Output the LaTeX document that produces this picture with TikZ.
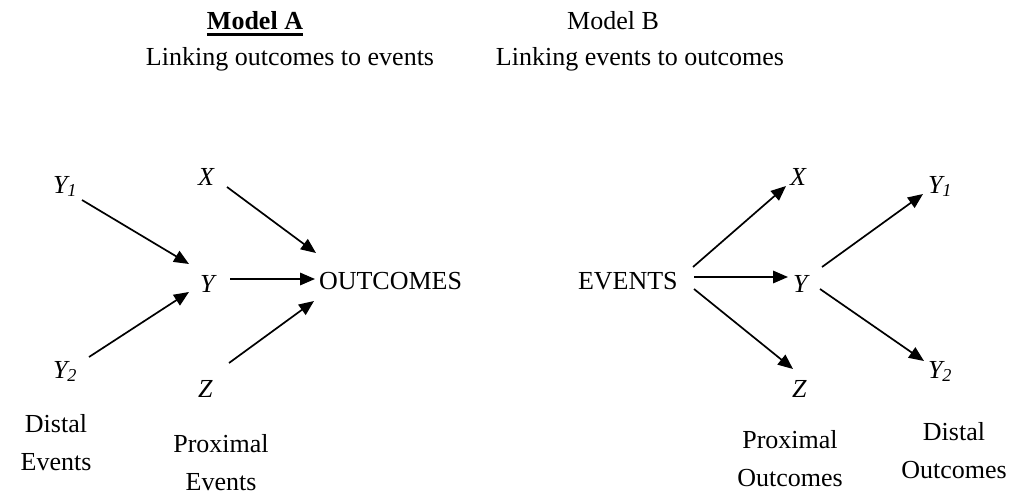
\documentclass[tikz,border=0pt]{standalone}
\usepackage{fontspec}
\setmainfont{Liberation Serif}
\usetikzlibrary{arrows.meta}
\begin{document}
\begin{tikzpicture}[x=1pt,y=-1pt,
  every node/.style={inner sep=0pt,outer sep=0pt,font=\fontsize{26}{38}\selectfont},
  lbl/.style={anchor=base west},
  var/.style={anchor=base west,font=\fontsize{26}{38}\selectfont\itshape},
  ctext/.style={anchor=base,align=center},
  link/.style={line width=1.7pt,-{Triangle[length=15pt,width=12.5pt]}}]
\useasboundingbox (0,0) rectangle (1024,492);

% ---- titles ----
\node[ctext,font=\fontsize{26}{38}\selectfont\bfseries] (mA) at (255,30) {Model A};
\draw[line width=3pt] ([yshift=-5pt]mA.base west) -- ([yshift=-5pt]mA.base east);
\node[ctext] (mB) at (613,30) {Model B};
\node[ctext] (tA) at (290,66) {Linking outcomes to events};
\node[ctext] (tB) at (640,66) {Linking events to outcomes};

% ---- Model A: outcomes traced back to events ----
\node[var] (aY1) at (53,193) {Y\textsubscript{1}};
\node[var] (aX)  at (198,185) {X};
\node[var] (aY)  at (200,292) {Y};
\node[lbl] (aO)  at (319,289) {OUTCOMES};
\node[var] (aY2) at (53,378) {Y\textsubscript{2}};
\node[var] (aZ)  at (198,397) {Z};
% two-line captions: the base anchor sits on the last line
\node[ctext] (aDist) at (56,470) {Distal\\Events};
\node[ctext] (aProx) at (221,490) {Proximal\\Events};

\coordinate (aY1s) at (82,200);  \coordinate (aY1e) at (189,264);
\coordinate (aY2s) at (89,357);  \coordinate (aY2e) at (189,292);
\coordinate (aXs)  at (227,187); \coordinate (aXe)  at (316,253);
\coordinate (aYs)  at (230,279); \coordinate (aYe)  at (315,279);
\coordinate (aZs)  at (229,363); \coordinate (aZe)  at (314,301);
\draw[link] (aY1s) -- (aY1e);
\draw[link] (aY2s) -- (aY2e);
\draw[link] (aXs) -- (aXe);
\draw[link] (aYs) -- (aYe);
\draw[link] (aZs) -- (aZe);

% ---- Model B: events followed forward to outcomes ----
\node[lbl] (bE)  at (578,289) {EVENTS};
\node[var] (bX)  at (790,185) {X};
\node[var] (bY)  at (793,292) {Y};
\node[var] (bZ)  at (792,397) {Z};
\node[var] (bY1) at (928,193) {Y\textsubscript{1}};
\node[var] (bY2) at (928,378) {Y\textsubscript{2}};
\node[ctext] (bProx) at (790,486) {Proximal\\Outcomes};
\node[ctext] (bDist) at (954,478) {Distal\\Outcomes};

\coordinate (bXs)  at (693,267); \coordinate (bXe)  at (786,186);
\coordinate (bYs)  at (694,277); \coordinate (bYe)  at (788,277);
\coordinate (bZs)  at (694,289); \coordinate (bZe)  at (793,369);
\coordinate (bY1s) at (822,267); \coordinate (bY1e) at (923,194);
\coordinate (bY2s) at (820,289); \coordinate (bY2e) at (924,361);
\draw[link] (bXs) -- (bXe);
\draw[link] (bYs) -- (bYe);
\draw[link] (bZs) -- (bZe);
\draw[link] (bY1s) -- (bY1e);
\draw[link] (bY2s) -- (bY2e);
\end{tikzpicture}
\end{document}
